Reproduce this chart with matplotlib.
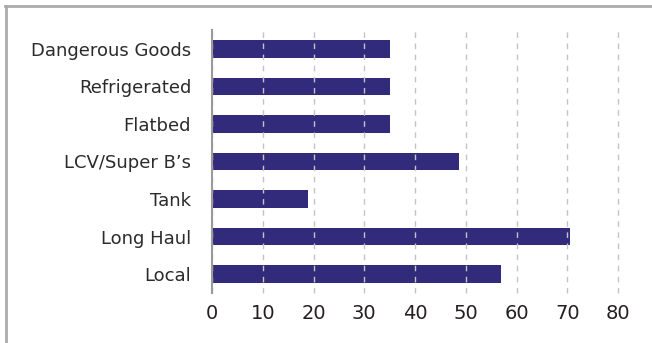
"""Horizontal bar chart by trailer type."""
import matplotlib
matplotlib.use("Agg")
import matplotlib.pyplot as plt
from matplotlib.lines import Line2D

categories = ["Local", "Long Haul", "Tank", "LCV/Super B\u2019s",
              "Flatbed", "Refrigerated", "Dangerous Goods"]
values = [57, 70.5, 19, 48.6, 35, 35, 35]
xticks = [0, 10, 20, 30, 40, 50, 60, 70, 80]

bar_color = "#322a7b"
grid_color = "#c4c4c4"
frame_color = "#ababab"

fig = plt.figure(figsize=(6.52, 3.43), dpi=100)
ax = fig.add_axes([212 / 652, 1 - 293 / 343, 406 / 652, 263 / 343])

ax.barh(range(len(categories)), values, height=0.47, color=bar_color,
        zorder=2)

ax.set_xlim(0, 80)
ax.set_ylim(-0.5, 6.5)
ax.set_yticks(range(len(categories)))
ax.set_yticklabels(categories, fontsize=13, color="#2b2b2b",
                   family="DejaVu Sans")
ax.set_xticks(xticks)
ax.set_xticklabels([str(t) for t in xticks], fontsize=14, color="#231f20",
                   family="DejaVu Sans")

ax.tick_params(axis="both", length=0)
ax.tick_params(axis="y", pad=15)
ax.tick_params(axis="x", pad=8)

for side in ["top", "right", "bottom"]:
    ax.spines[side].set_visible(False)
ax.spines["left"].set_color("#9a9a9a")
ax.spines["left"].set_linewidth(1.5)
ax.spines["left"].set_zorder(3)

ax.xaxis.grid(True, linestyle=(0, (4, 4)), color=grid_color, linewidth=1,
              zorder=3)
for gl in ax.get_xgridlines():
    gl.set_clip_on(False)
ax.set_axisbelow(False)

# outer frame on left and top
fig.add_artist(Line2D([6 / 652, 6 / 652], [0, 1 - 6 / 343],
                      transform=fig.transFigure, color=frame_color,
                      linewidth=2))
fig.add_artist(Line2D([5 / 652, 1], [1 - 6 / 343, 1 - 6 / 343],
                      transform=fig.transFigure, color=frame_color,
                      linewidth=2))

fig.savefig("out.png", dpi=100)
